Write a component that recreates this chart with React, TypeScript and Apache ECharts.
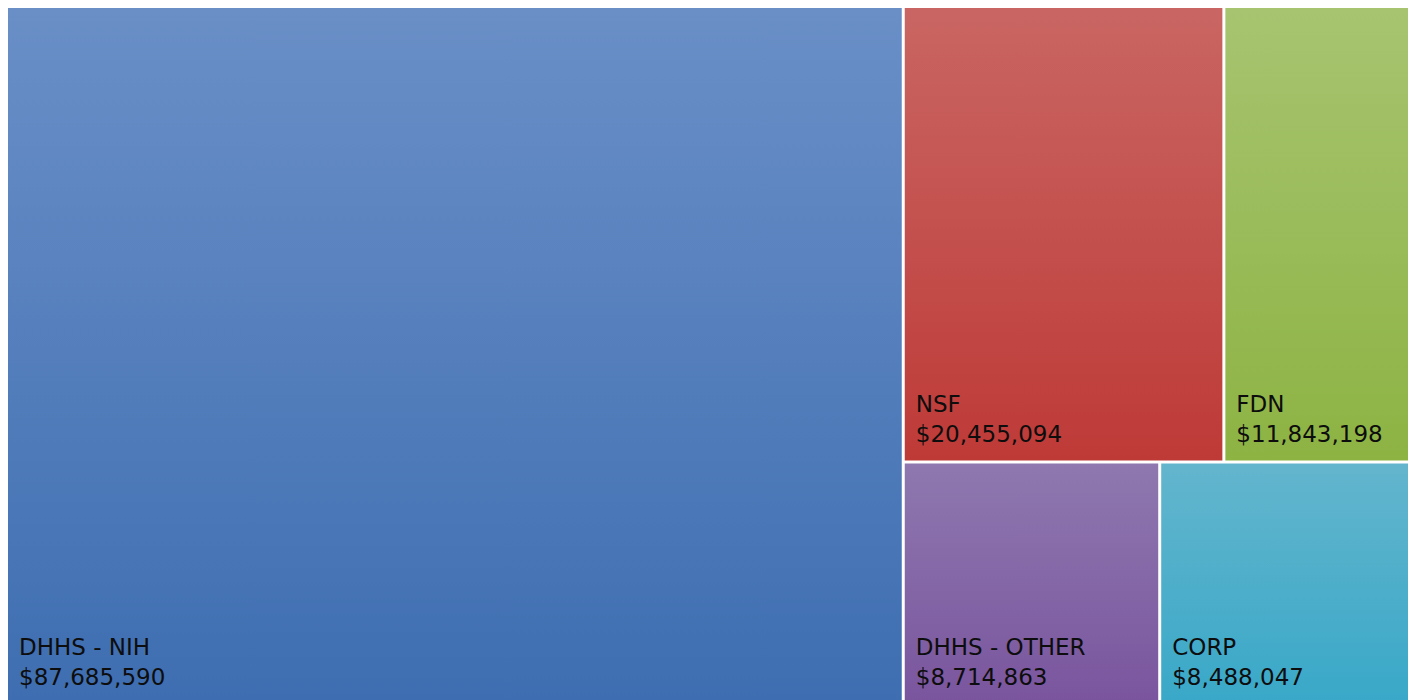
import React, { useEffect, useRef } from "react";
import * as echarts from "echarts";

const categories = ["DHHS - NIH", "NSF", "FDN", "DHHS - OTHER", "CORP"];
const values = [87685590, 20455094, 11843198, 8714863, 8488047];
const topColors = ["#6a8fc7", "#c96663", "#a7c470", "#8e78af", "#63b5cd"];
const bottomColors = ["#3e6eb1", "#be3a37", "#8db343", "#7a559e", "#39a8c8"];

export default function App() {
  const ref = useRef<HTMLDivElement>(null);
  useEffect(() => {
    document.documentElement.style.overflow = "hidden";
    const chart = echarts.init(ref.current!, null, { renderer: "svg" });
    const data = categories.map((name, i) => ({
      name,
      value: values[i],
      itemStyle: {
        color: new echarts.graphic.LinearGradient(0, 0, 0, 1, [
          { offset: 0, color: topColors[i] },
          { offset: 1, color: bottomColors[i] },
        ]),
      },
    }));
    chart.setOption({
      animation: false,
      series: [
        {
          type: "treemap",
          left: 0,
          top: 0,
          right: 0,
          bottom: 0,
          roam: false,
          nodeClick: false,
          breadcrumb: { show: false },
          data,
          levels: [
            {
              itemStyle: { borderWidth: 0, gapWidth: 3, borderColor: "#fff" },
            },
          ],
          itemStyle: { borderWidth: 0, gapWidth: 3 },
          label: {
            show: true,
            position: "insideBottomLeft",
            distance: 0,
            padding: [0, 0, 11, 11],
            color: "#0d0d0d",
            fontFamily: "'DejaVu Sans', sans-serif",
            fontSize: 23,
            lineHeight: 30,
            formatter: (p: any) =>
              p.name + "\n$" + Number(p.value).toLocaleString("en-US"),
          },
          emphasis: { disabled: true },
        },
      ],
    });
    return () => chart.dispose();
  }, []);
  return <div ref={ref} style={{ width: 1400, height: 695 }} />;
}
